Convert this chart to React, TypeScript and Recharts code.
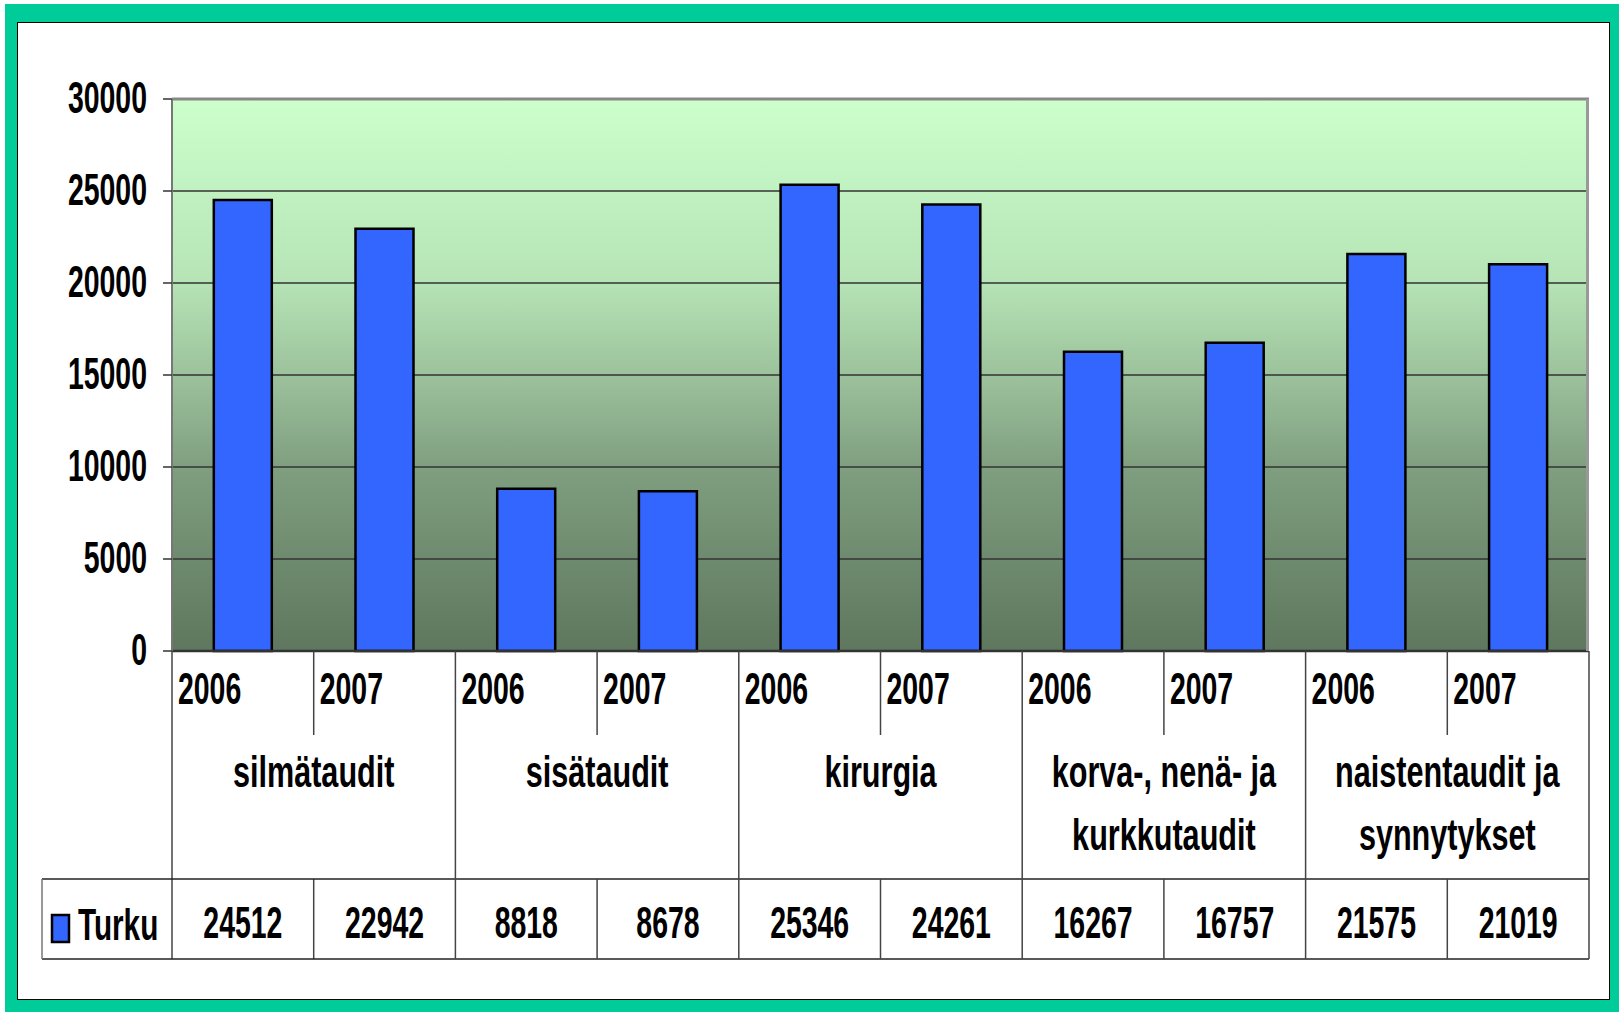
import React from 'react';
import { BarChart, Bar, XAxis, YAxis, CartesianGrid, ReferenceLine } from 'recharts';

// ---- data ----
const categories = ['silmätaudit', 'sisätaudit', 'kirurgia', 'korva-, nenä- ja kurkkutaudit', 'naistentaudit ja synnytykset'];
const categoryLines = [['silmätaudit'], ['sisätaudit'], ['kirurgia'], ['korva-, nenä- ja', 'kurkkutaudit'], ['naistentaudit ja', 'synnytykset']];
const years = ['2006', '2007'];
const turku = [24512, 22942, 8818, 8678, 25346, 24261, 16267, 16757, 21575, 21019];
const yTicks = [0, 5000, 10000, 15000, 20000, 25000, 30000];
const seriesName = 'Turku';

const data = turku.map((v, i) => ({
  key: `${categories[Math.floor(i / 2)]}|${years[i % 2]}`,
  cat: Math.floor(i / 2),
  year: years[i % 2],
  Turku: v,
}));

// ---- layout ----
const W = 1619;
const H = 1012;
const PLOT_LEFT = 172;
const PLOT_RIGHT = 1589;
const PLOT_TOP = 99;
const PLOT_BOTTOM = 651;
const XAXIS_H = 320;
const MARGIN = { top: PLOT_TOP, right: W - PLOT_RIGHT, left: 0, bottom: H - PLOT_BOTTOM - XAXIS_H };
const COL_W = (PLOT_RIGHT - PLOT_LEFT) / turku.length;
const YEAR_ROW_BOTTOM = 735;
const CAT_ROW_BOTTOM = 879;
const TABLE_BOTTOM = 959;
const TABLE_LEFT = 42;
const FONT = "'Liberation Sans', Arial, Helvetica, sans-serif";
const LINE = '#444';

const NT = ({ x, y, anchor = 'start', sx = 0.632, children }: any) => (
  <text
    transform={`translate(${x},${y}) scale(${sx},1)`}
    textAnchor={anchor}
    fontFamily={FONT}
    fontWeight="bold"
    fontSize={45}
    fill="#000"
  >
    {children}
  </text>
);

const YTick = (props: any) => {
  const { x, y, payload } = props;
  return <NT x={x} y={y + 14} anchor="end">{payload.value}</NT>;
};

const XTick = (props: any) => {
  const { x, index } = props;
  const i = index as number;
  const left = x - COL_W / 2;
  const right = x + COL_W / 2;
  const d = data[i];
  const els: any[] = [];
  // year label
  els.push(<NT key="yr" x={left + 6} y={704}>{d.year}</NT>);
  if (i % 2 === 0) {
    els.push(<line key="ysep" x1={right} x2={right} y1={PLOT_BOTTOM} y2={YEAR_ROW_BOTTOM} stroke={LINE} strokeWidth={1.5} />);
    els.push(<line key="vsep" x1={right} x2={right} y1={CAT_ROW_BOTTOM} y2={TABLE_BOTTOM} stroke={LINE} strokeWidth={1.5} />);
  } else {
    els.push(<line key="csep" x1={right} x2={right} y1={PLOT_BOTTOM} y2={TABLE_BOTTOM} stroke={LINE} strokeWidth={1.5} />);
    const lines = categoryLines[d.cat];
    lines.forEach((t, k) => {
      els.push(<NT key={`c${k}`} x={left} y={787 + k * 63} anchor="middle" sx={0.68}>{t}</NT>);
    });
  }
  // value cell
  els.push(<NT key="val" x={x} y={938} anchor="middle">{turku[i]}</NT>);
  if (i === 0) {
    els.push(<line key="tl" x1={left} x2={left} y1={PLOT_BOTTOM} y2={TABLE_BOTTOM} stroke={LINE} strokeWidth={1.5} />);
    els.push(<line key="h1" x1={TABLE_LEFT} x2={PLOT_RIGHT} y1={CAT_ROW_BOTTOM} y2={CAT_ROW_BOTTOM} stroke="#222" strokeWidth={1.5} />);
    els.push(<line key="h2" x1={TABLE_LEFT} x2={PLOT_RIGHT} y1={TABLE_BOTTOM} y2={TABLE_BOTTOM} stroke="#222" strokeWidth={1.5} />);
    els.push(<line key="lb" x1={TABLE_LEFT} x2={TABLE_LEFT} y1={CAT_ROW_BOTTOM} y2={TABLE_BOTTOM} stroke="#777" strokeWidth={1.5} />);
    els.push(<rect key="sw" x={52} y={915} width={17} height={27} fill="#3366FF" stroke="#000" strokeWidth={2.5} />);
    els.push(<NT key="lg" x={78} y={940} sx={0.66}>{seriesName}</NT>);
  }
  if (i === turku.length - 1) {
    els.push(<line key="pr" x1={right - 1.5} x2={right - 1.5} y1={PLOT_TOP} y2={PLOT_BOTTOM} stroke="#999" strokeWidth={3} />);
  }
  return <g>{els}</g>;
};

export default function App() {
  return (
    <div style={{ position: 'absolute', left: 0, top: 0, width: W, height: H, background: '#fff', overflow: 'hidden' }}>
      <div style={{ position: 'absolute', left: 5, top: 4, width: W - 5, height: H - 4, background: '#00CC99' }} />
      <div
        style={{
          position: 'absolute',
          left: 17,
          top: 22,
          width: 1610 - 17,
          height: 1000 - 22,
          background: '#fff',
          border: '1.5px solid #000',
          boxSizing: 'border-box',
        }}
      />
      <div style={{ position: 'absolute', left: 0, top: 0 }}>
        <BarChart width={W} height={H} data={data} margin={MARGIN} barCategoryGap="29.5%">
          <defs>
            <linearGradient id="plotBg" x1="0" y1="0" x2="0" y2="1">
              <stop offset="0" stopColor="#CCFFCC" />
              <stop offset="0.33" stopColor="#B6E4B6" />
              <stop offset="0.5" stopColor="#9CC29C" />
              <stop offset="0.67" stopColor="#7F9E7F" />
              <stop offset="1" stopColor="#5E775E" />
            </linearGradient>
          </defs>
          <CartesianGrid horizontal vertical={false} stroke="#333" strokeWidth={1.3} fill="url(#plotBg)" fillOpacity={1} />
          <XAxis
            dataKey="key"
            height={XAXIS_H}
            interval={0}
            tickLine={false}
            axisLine={{ stroke: '#333', strokeWidth: 2.5 }}
            tick={<XTick />}
          />
          <YAxis
            width={PLOT_LEFT}
            domain={[0, 30000]}
            ticks={yTicks}
            interval={0}
            tickSize={9}
            tickMargin={16}
            tickLine={{ stroke: '#333', strokeWidth: 1.5 }}
            axisLine={{ stroke: '#777', strokeWidth: 2 }}
            tick={<YTick />}
          />
          <ReferenceLine y={30000} stroke="#888" strokeWidth={3} />
          <Bar dataKey="Turku" fill="#3366FF" stroke="#000" strokeWidth={2.5} isAnimationActive={false} />
        </BarChart>
      </div>
    </div>
  );
}
